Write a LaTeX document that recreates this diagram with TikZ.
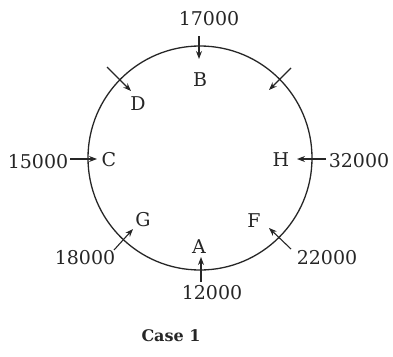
\documentclass[tikz,border=0pt]{standalone}
\usepackage{fontspec}
\setmainfont{DejaVu Serif}
\usetikzlibrary{arrows.meta}
\begin{document}
\begin{tikzpicture}[x=1pt,y=-1pt,
  lbl/.style={inner sep=0pt,font=\fontsize{19}{19}\selectfont,text=black!85},
  flow/.style={line width=1.1pt,-{Stealth[length=8pt,width=6pt]},draw=black!85}]
\useasboundingbox (0,0) rectangle (393,356);
\draw[line width=1.3pt,black!85] (200,158) circle[radius=112];
% labels
\node[lbl] (v17) at (209,19) {17000};
\node[lbl] (B) at (200,80) {B};
\node[lbl] (D) at (138,104) {D};
\node[lbl] (C) at (109,160) {C};
\node[lbl] (H) at (281,160) {H};
\node[lbl] (v15) at (38,162) {15000};
\node[lbl] (v32) at (359,161) {32000};
\node[lbl] (G) at (143,220) {G};
\node[lbl] (F) at (254,221) {F};
\node[lbl] (A) at (199,247) {A};
\node[lbl] (v18) at (85,258) {18000};
\node[lbl] (v22) at (327,258) {22000};
\node[lbl] (v12) at (212,293) {12000};
\node[inner sep=0pt,font=\fontsize{16}{16}\selectfont\bfseries,text=black!85] (case) at (171,336) {Case 1};
% arrow ends
\coordinate (b0) at (199,36);  \coordinate (b1) at (199,59);
\coordinate (d0) at (107,67);  \coordinate (d1) at (131,91);
\coordinate (e0) at (291,68);  \coordinate (e1) at (269,90);
\coordinate (c0) at (70,159);  \coordinate (c1) at (97,159);
\coordinate (h0) at (326,159); \coordinate (h1) at (297,159);
\coordinate (g0) at (114,250); \coordinate (g1) at (133,229);
\coordinate (a0) at (201,282); \coordinate (a1) at (201,257);
\coordinate (f0) at (291,249); \coordinate (f1) at (269,228);
\foreach \s/\t in {b0/b1,d0/d1,e0/e1,c0/c1,h0/h1,g0/g1,a0/a1,f0/f1}
  \draw[flow] (\s) -- (\t);
\end{tikzpicture}
\end{document}
